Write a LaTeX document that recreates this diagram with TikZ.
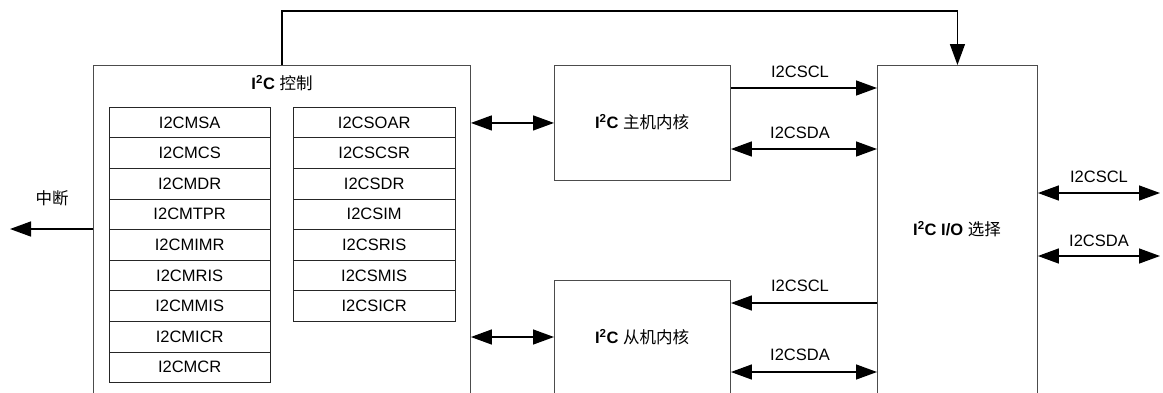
\documentclass[tikz,border=0pt]{standalone}
\usepackage{fontspec}
\setmainfont{Liberation Sans}
\newfontfamily\cjk{Noto Sans CJK SC}
\usetikzlibrary{arrows.meta,calc}
\begin{document}
\begin{tikzpicture}[x=1pt,y=-1pt,
  box/.style={draw=black!70,line width=0.9pt,inner sep=0,anchor=north west},
  reg/.style={draw=black!85,line width=0.9pt,minimum width=161.5pt,minimum height=30.6pt,inner sep=0,anchor=north west,font=\fontsize{16.5}{18}\selectfont},
  wire/.style={line width=1.4pt},
  arr/.style={wire,-{Triangle[length=21pt,width=15pt]}},
  dbl/.style={wire,{Triangle[length=21pt,width=15pt]}-{Triangle[length=21pt,width=15pt]}},
  lbl/.style={font=\fontsize{16.5}{18}\selectfont,inner sep=0}]
\useasboundingbox (0,0) rectangle (1163,392);
\clip (0,0) rectangle (1163,392);
% main boxes
\node[box,minimum width=377pt,minimum height=345pt] (ctrl) at (93,65) {};
\node[box,minimum width=176pt,minimum height=115pt] (master) at (554,65) {};
\node[box,minimum width=176pt,minimum height=120pt] (slave) at (554,280) {};
\node[box,minimum width=160pt,minimum height=345pt] (io) at (877,65) {};
% box labels
\node[lbl] (ctrlt) at (282,83) {\textbf{I\textsuperscript{2}C} {\cjk 控制}};
\node[lbl] (mastert) at (642,122) {\textbf{I\textsuperscript{2}C} {\cjk 主机内核}};
\node[lbl] (slavet) at (642,337) {\textbf{I\textsuperscript{2}C} {\cjk 从机内核}};
\node[lbl] (iot) at (957,229) {\textbf{I\textsuperscript{2}C I/O} {\cjk 选择}};
% registers
\foreach \t [count=\i from 0] in {I2CMSA,I2CMCS,I2CMDR,I2CMTPR,I2CMIMR,I2CMRIS,I2CMMIS,I2CMICR,I2CMCR}
  \node[reg] (m\i) at (108.5,106.7+30.6*\i) {\t};
\foreach \t [count=\i from 0] in {I2CSOAR,I2CSCSR,I2CSDR,I2CSIM,I2CSRIS,I2CSMIS,I2CSICR}
  \node[reg] (s\i) at (293,106.7+30.6*\i) {\t};
% top connector
\draw[arr] (ctrl.north) -- ++(0,-54) -| (io.north);
% interrupt
\coordinate (int) at (10,229);
\draw[arr] (ctrl.west |- int) -- (int);
\node[lbl] (intl) at (52,198) {\cjk 中断};
% control <-> cores
\draw[dbl] (ctrl.east |- master.west) -- (master.west);
\coordinate (sy) at (554,337);
\draw[dbl] (ctrl.east |- sy) -- (sy);
% master <-> io
\coordinate (y1) at (0,88);
\coordinate (y2) at (0,149);
\coordinate (y3) at (0,303);
\coordinate (y4) at (0,372);
\draw[arr] (master.east |- y1) -- (io.west |- y1);
\node[lbl] (l1) at (800,72) {I2CSCL};
\draw[dbl] (master.east |- y2) -- (io.west |- y2);
\node[lbl] (l2) at (800,133) {I2CSDA};
\draw[arr] (io.west |- y3) -- (slave.east |- y3);
\node[lbl] (l3) at (800,286) {I2CSCL};
\draw[dbl] (slave.east |- y4) -- (io.west |- y4);
\node[lbl] (l4) at (800,355) {I2CSDA};
% io outside
\coordinate (oscl) at (1160,193);
\coordinate (osda) at (1160,256);
\draw[dbl] (io.east |- oscl) -- (oscl);
\node[lbl] (l5) at (1099,177) {I2CSCL};
\draw[dbl] (io.east |- osda) -- (osda);
\node[lbl] (l6) at (1099,241) {I2CSDA};
\end{tikzpicture}
\end{document}
